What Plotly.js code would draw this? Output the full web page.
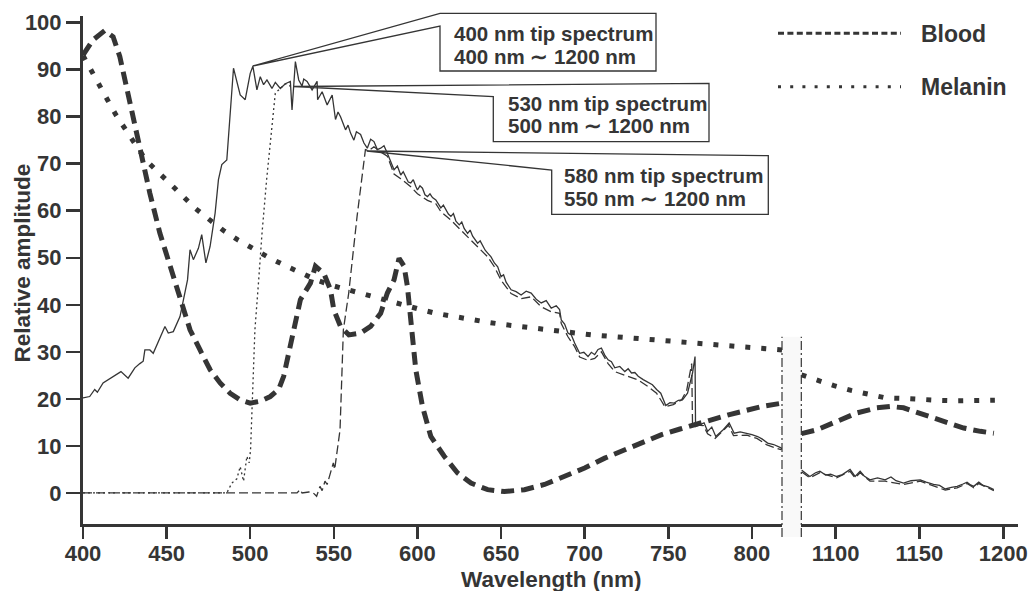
<!DOCTYPE html>
<html><head><meta charset="utf-8">
<script src="https://cdn.plot.ly/plotly-3.0.1.min.js"></script>
<style>html,body{margin:0;padding:0;background:#fff;}</style>
</head><body><div id="chart" style="width:1029px;height:591px;"></div>
<script>
// ---- 400 nm tip spectrum (solid) ----
const wl400 = [400,404,407,408.6,412,418,422.7,427,431,434,436,437,440,442,445,449,451,454,458,461,462.5,464,466,469,471,473.5,476,479,481,483,486,490,494,497,500,501.6,504,506,508,510,513,515,518,521,524,525,527,529,531,532,534,537,540,540.3,543,546,
  549,551,552.5,554,555.5,557,558.5,560,562,563.5,566,568,570,572,574,576,578,580,582,584,586,588,590,591.5,593,594.5,596,597.5,599,600,601.5,603,604.5,606,607.5,609,611,612.5,614,615.5,617,618.5,620,621.5,623,625,626.5,628,630,631.5,633,634.5,636,637.5,639,640.5,642,644,646,648,650,651.5,653,654.5,656,659,662,665,668,671,674,677,680,683,685,686,688,690,692,694,697,699.5,702,704,706,708,710,712,714,716,718,721,724,726,728,730,732,735,738,740.5,743,745.5,748.5,751,753.5,756,758.5,761.5,764.5,766,
  766.3,771.4,773.5,776,778.4,783,786.4,789.4,793,797.4,800,803.4,806,809.4,813,817.4,818];
const amp400 = [20.2,20.5,22,21.4,23.4,24.8,25.8,24.4,26.6,27.5,28,30.4,30.4,29.7,32.2,35.4,34,34.3,37.5,42.5,45.3,51.7,49.6,52,54.9,48.9,52.4,59.5,66.6,69.8,70.8,90.3,84.6,83.6,89.2,90.7,85.7,88.5,86.8,87.8,86,87.3,86,87,87.5,81.4,91.7,87.8,86.5,88,87.5,85.7,87.5,83.6,85.3,82.5,
  84.6,79.4,81,80,78.4,77.2,78.2,76.5,75,76.8,76.2,74.4,73.3,75.2,74.7,73,73.3,73.8,72.2,70.5,68.7,69.5,67.6,68.3,67,66.1,65.9,66.6,65.2,64.4,65.3,64.8,63.4,63,63.6,62.8,62.3,61.4,60.6,61.2,60.2,59.3,58.8,59.4,57.8,57,57.6,56.2,55.2,55.9,54.6,53.8,53.1,53.6,52.5,51.6,51,50.2,48.9,48.1,46,46.4,44.8,44.1,43.2,42.8,42.1,42.9,42.5,41.2,40.4,40.9,39.3,39.8,39,36.8,35.9,34,33.6,31.9,29.7,29.9,29,29.9,29.4,30.5,30.8,29.3,28.3,27.9,26.6,26.9,25.8,26.4,25.5,25.6,24.8,24.1,23.4,23,22,21.2,18.6,19.2,19.1,19.7,19.8,21.2,25.5,29,
  14.1,14.9,13.1,14,12,13.5,14.9,12.7,13,12.7,12.4,12,11.5,10.6,10.3,9.6,9.2];
const wl400r = [1079.6,1082,1084.6,1088,1090.6,1094,1097,1100.6,1104,1108.6,1111.6,1114.6,1117,1120.5,1125,1129.5,1133,1136,1140.5,1145,1150.5,1154,1158.4,1162,1165.4,1169,1172.5,1176,1178.4,1180.5,1182.4,1185.4,1188,1191,1194.4];
const amp400r = [4.9,4.2,3.5,4.3,4.6,3.8,4.0,3.5,3.9,5.0,3.5,4.6,3.6,2.8,3.2,2.8,3.4,2.6,2.1,2.6,2.8,2.3,1.8,1.6,0.85,1.2,1.4,1.9,2.3,1.7,1.4,2.3,1.6,1.3,0.7];

// ---- 530 nm tip spectrum (dotted) ----
const wl530 = [400,486,489,492,494,496,498,499.4,500.2,501.2,502.8,505,507,509.8,512,515,518,521,524];
const amp530 = [0,0,2.1,3,5.6,2.5,7.8,6.4,9.2,17.7,34.7,45,55,66.6,75,85,86,87,86.5];

// ---- 580 nm tip spectrum (dashed) ----
const wl580 = [400,528,529.8,531,535,537.7,539.7,541.7,543,544.7,546,547.7,549.7,550.5,551.7,553.7,554.7,555.7,558.9,563.9,568.9,571,574,578,582,586,590,596,600,606,611,614,620,625,630,636,642,646,650,656,662,668,674,680,685,686,690,694,697,702,706,710,714,718,724,732,738,743,746,748,753,758,761,764,764.5,771,773.5,778,786,789,797,803,809,817.4];
const amp580 = [0,0,0.7,0,0.2,0,-0.7,1.4,0.5,2.5,1.8,4.2,6.4,5,8.5,13.4,24,34.7,42.5,58.8,73,72.8,73.6,72.5,71.6,67.8,66.8,65.1,63.6,62.2,61.5,59.8,58,56.2,54.4,52.3,50.2,48.1,45.2,42.4,41.3,41.7,39.6,38.5,38.2,36,33.2,31.1,28.9,28.2,28.6,30,27.5,25.8,25,24,22.6,21.2,19.5,18.3,18.8,19.8,21.8,27.5,14.5,14.3,12.6,11.6,14.4,12.2,12.3,11.6,10.2,9.2];
const wl580r = [1079.6,1084.6,1090.6,1100.6,1108.6,1111.6,1114.6,1120.5,1129.5,1140.5,1150.5,1158.4,1165.4,1172.5,1178.4,1182.4,1185.4,1194.4];
const amp580r = [4.5,3.2,4.3,3.2,4.6,3.2,4.3,2.5,2.5,1.8,2.5,1.5,0.6,1.1,2,1.1,2,0.5];

// ---- Blood (thick dashed) ----
const wlBlood = [400,406,413,418,422,426,430,435,440,446,452,458,464,470,476,482,488,494,500,506,512,517,520,523,526,530,536,539,544,548,550,554,559,566,572,578,582,586,589,592,594,596,599,603,608,616,624,632,642,652,664,676,688,700,712,724,735,746,757,766,786,806,818];
const ampBlood = [93.1,96.3,98.3,97,92.8,86.4,79.3,71.5,63.7,55.2,48.2,41.8,34.7,30.4,26.2,23.4,21.2,19.8,19.1,19.5,20.5,22,24.8,29.7,34.7,41.1,44.6,48.2,46.7,43.2,38.9,35.4,33.6,34,35.4,38.2,42.5,45.3,49.9,48.2,43.9,36.8,26.2,18.4,12,7.8,4.25,2.1,0.7,0.3,0.7,1.8,3.5,5.3,7.4,9.2,11,12.4,13.6,14.6,16.6,18.4,19.1];
const wlBloodR = [1079.6,1088.6,1100.6,1112.6,1124.6,1132.5,1140.5,1152.5,1164.4,1176.4,1186.4,1194.4];
const ampBloodR = [12.6,13.4,15.2,17,18.1,18.4,18.1,16.6,15.2,13.8,13.1,12.7];

// ---- Melanin (thick dotted) ----
const wlMel = [400,404,409.6,414.6,419.8,425.6,432,437.5,444.7,452,459.7,467.5,475.6,484,492.6,502,511.4,520.5,530,540,550,560,570,580,590,600.8,610.8,621.4,631.7,641.7,651.7,662.7,673.7,684,694.6,704.6,715.6,725.6,736.5,746.5,756.5,767.5,778.4,789,799.4,809.8,818];
const ampMel = [93,90.3,86.8,83.6,80.3,77.2,74,70.8,68.3,65.7,62.9,60.4,58.1,55.8,53.8,51.8,50,48.4,46.8,45.2,44,43,42.1,41,40,39.1,38.2,37.5,37,36.3,35.8,35.3,34.7,34.3,34,33.6,33.3,32.9,32.6,32.4,32.1,31.9,31.4,31.2,30.9,30.6,30.4];
const wlMelR = [1079.6,1089,1099,1109.2,1119.6,1130,1140.5,1151,1161.5,1172,1182.4,1192.5,1195];
const ampMelR = [25.1,23.9,22.8,21.8,20.9,20.2,20.1,19.8,19.7,19.6,19.6,19.7,19.7];

// ---- tick labels ----
const ticksLeft = [400,450,500,550,600,650,700,750,800];
const ticksRight = [1100,1150,1200];
const ticksY = [0,10,20,30,40,50,60,70,80,90,100];

const FONT = '"Liberation Sans", Arial, Helvetica, sans-serif';
const INK = '#353535';

function thin(x, y, xa, dash){ return {x:x, y:y, xaxis:xa, yaxis:'y', mode:'lines', line:{color:INK, width:1.3, dash:dash}, hoverinfo:'skip', showlegend:false}; }
function thick(x, y, xa, dash){ return {x:x, y:y, xaxis:xa, yaxis:'y', mode:'lines', line:{color:INK, width:5, dash:dash}, hoverinfo:'skip', showlegend:false}; }

const BLOOD_DASH = '13px,7px';
const MEL_DASH = '5px,11px';
const traces = [
  thick(wlBlood, ampBlood, 'x', BLOOD_DASH),
  thick(wlBloodR, ampBloodR, 'x2', BLOOD_DASH),
  thick(wlMel, ampMel, 'x', MEL_DASH),
  thick(wlMelR, ampMelR, 'x2', MEL_DASH),
  thin(wl580, amp580, 'x', '9px,4px'),
  thin(wl580r, amp580r, 'x2', '9px,4px'),
  thin(wl530, amp530, 'x', '2px,3px'),
  thin(wl400, amp400, 'x', 'solid'),
  thin(wl400r, amp400r, 'x2', 'solid')
];

// page-pixel -> paper helpers (layout placement only)
const L = 83, T = 16, W = 935, H = 508;
const PX = p => (p - L) / W;
const PY = p => (T + H - p) / H;

const tickFont = {family:FONT, size:22, color:INK, weight:700};
const axisBase = {ticks:'outside', ticklen:12, tickwidth:2.5, tickcolor:INK, showline:true, linewidth:3, linecolor:INK,
  showgrid:false, zeroline:false, tickfont:tickFont, anchor:'y', fixedrange:true, ticklabeloverflow:'allow'};

function callout(p, up, corner1, corner2, corner3, low){
  return {type:'path', xref:'paper', yref:'paper', layer:'above',
    path:'M'+PX(p[0])+','+PY(p[1])+' L'+PX(up[0])+','+PY(up[1])+' L'+PX(corner1[0])+','+PY(corner1[1])+
      ' L'+PX(corner2[0])+','+PY(corner2[1])+' L'+PX(corner3[0])+','+PY(corner3[1])+' L'+PX(low[0])+','+PY(low[1])+' Z',
    line:{color:INK, width:1.3}, fillcolor:'rgba(0,0,0,0)'};
}

const shapes = [
  callout([252.7,66],[440,13.3],[656,13.3],[656,71],[440,71],[440,26]),
  callout([293,86.5],[709,83.3],[709,83.3],[709,141.7],[493.3,141.7],[493.3,96.7]),
  callout([366.7,151],[768.3,155.7],[768.3,155.7],[768.3,214.3],[551.7,214.3],[551.7,170]),
  {type:'rect', xref:'paper', yref:'paper', x0:PX(782), x1:PX(801.3), y0:PY(537), y1:PY(336.7), fillcolor:'#f9f9f9', line:{width:0}, layer:'below'},
  {type:'line', xref:'paper', yref:'paper', x0:PX(782), x1:PX(782), y0:PY(537), y1:PY(336.7), line:{color:INK, width:1.2, dash:'9px,3px,2px,3px'}},
  {type:'line', xref:'paper', yref:'paper', x0:PX(801.3), x1:PX(801.3), y0:PY(537), y1:PY(336.7), line:{color:INK, width:1.2, dash:'9px,3px,2px,3px'}},
  {type:'line', xref:'paper', yref:'paper', x0:PX(778), x1:PX(901), y0:PY(33.3), y1:PY(33.3), line:{color:INK, width:3, dash:'6px,3.4px'}},
  {type:'line', xref:'paper', yref:'paper', x0:PX(778), x1:PX(901), y0:PY(86.7), y1:PY(86.7), line:{color:INK, width:3, dash:'3px,9.2px'}}
];

const boxFont = {family:FONT, size:20.5, color:INK, weight:700};
function txt(text, x, y, font, extra){
  return Object.assign({text:text, xref:'paper', yref:'paper', x:PX(x), y:PY(y), xanchor:'left', yanchor:'middle', showarrow:false, font:font}, extra||{});
}
const legFont = {family:FONT, size:23, color:INK, weight:700};
const titleFont = {family:FONT, size:22.5, color:INK, weight:700};
const annotations = [
  txt('400 nm tip spectrum', 451.7, 33.5, boxFont),
  txt('400 nm \u223C 1200 nm', 451.7, 56.5, boxFont),
  txt('530 nm tip spectrum', 505.7, 103.5, boxFont),
  txt('500 nm \u223C 1200 nm', 505.7, 125.5, boxFont),
  txt('580 nm tip spectrum', 561.7, 175, boxFont),
  txt('550 nm \u223C 1200 nm', 561.7, 198.5, boxFont),
  txt('Blood', 919, 34, legFont),
  txt('Melanin', 919, 87.5, legFont),
  txt('Wavelength (nm)', 550.5, 579.5, titleFont, {xanchor:'center'}),
  txt('Relative amplitude', 22, 263.5, titleFont, {xanchor:'center', textangle:-90})
];

const layout = {
  width:1029, height:591,
  margin:{l:L, r:1029-L-W, t:T, b:591-T-H},
  paper_bgcolor:'#ffffff', plot_bgcolor:'rgba(0,0,0,0)',
  showlegend:false,
  xaxis: Object.assign({}, axisBase, {domain:[0, PX(782)], range:[400, 818], ticklabelstandoff:-4, tickmode:'array', tickvals:ticksLeft, ticktext:ticksLeft.map(String)}),
  xaxis2: Object.assign({}, axisBase, {domain:[PX(801.3), 1], range:[1079.5, 1208.8], ticklabelstandoff:-4, tickmode:'array', tickvals:ticksRight, ticktext:ticksRight.map(String)}),
  yaxis: Object.assign({}, axisBase, {anchor:'x', ticklen:14, domain:[0,1], range:[-6.6, 101.4], tickmode:'array', tickvals:ticksY, ticktext:ticksY.map(String)}),
  shapes: shapes,
  annotations: annotations
};

Plotly.newPlot('chart', traces, layout, {displayModeBar:false, staticPlot:true});
</script>
</body></html>
